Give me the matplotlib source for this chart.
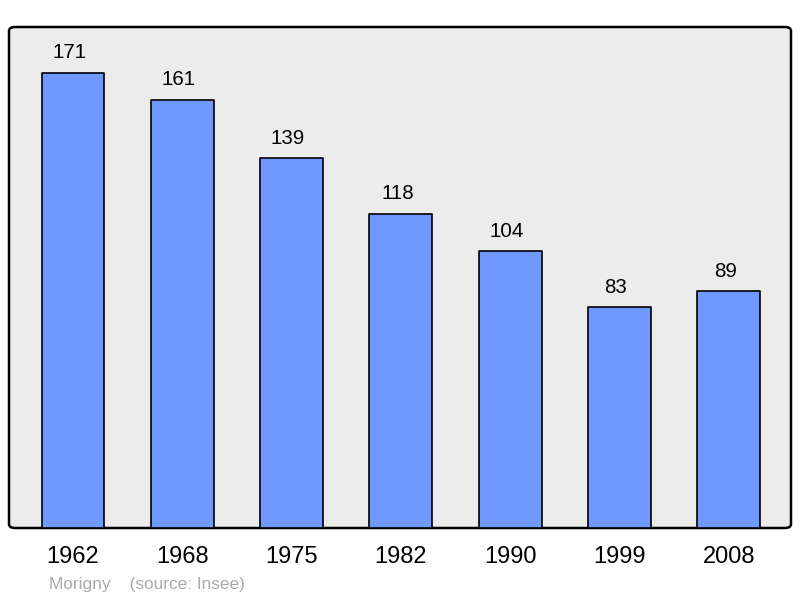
import matplotlib
matplotlib.use("Agg")
import matplotlib.pyplot as plt
from matplotlib.patches import FancyBboxPatch

years = ["1962", "1968", "1975", "1982", "1990", "1999", "2008"]
population = [171, 161, 139, 118, 104, 83, 89]

plt.rcParams['font.family'] = ['Liberation Sans', 'DejaVu Sans']

fig = plt.figure(figsize=(8, 5.98), dpi=100)
ax = fig.add_axes([9/800, 70/598, 782/800, 501/598])
ax.set_xlim(-0.585, 6.57)
ax.set_ylim(0, 188.3)
ax.axis('off')

# rounded background frame
frame = FancyBboxPatch((0, 0), 1, 1, boxstyle="round,pad=0,rounding_size=0.008",
                       transform=ax.transAxes, facecolor="#ececec",
                       edgecolor="black", linewidth=1.8, zorder=0, clip_on=False)
ax.add_patch(frame)

x = range(len(years))
bars = ax.bar(x, population, width=0.575, color="#7099ff", edgecolor="black",
              linewidth=1.2, zorder=2)
for b in bars:
    b.set_joinstyle('round')

# value labels sit a little left of the bar centre in the original
for i, v in enumerate(population):
    ax.annotate(str(v), (i, v), xytext=(-2.5, 14.5), textcoords="offset points",
                ha="center", va="center", fontsize=14.8)

for i, y in enumerate(years):
    ax.annotate(y, (i, 0), xytext=(0, -21), textcoords="offset points",
                ha="center", va="center", fontsize=17, annotation_clip=False)

fig.text(49/800, 1 - 584/598, "Morigny    (source: Insee)", color="#aaaaaa",
         fontsize=12.4, ha="left", va="center")

fig.savefig("out.png", dpi=100)
